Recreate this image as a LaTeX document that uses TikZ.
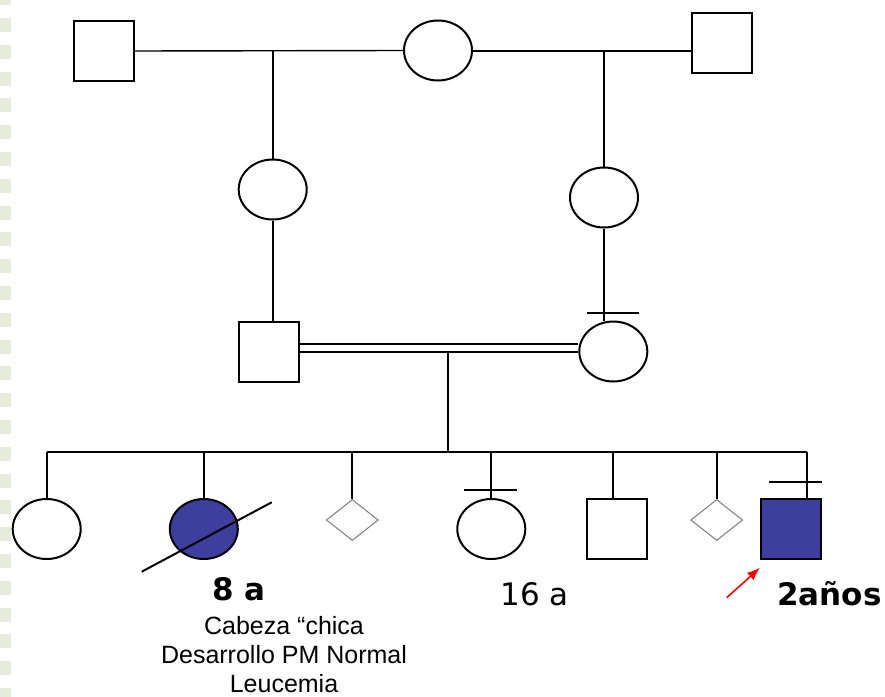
\documentclass[tikz,border=0pt]{standalone}
\usepackage{fontspec}
\usetikzlibrary{shapes.geometric,arrows.meta}
\newfontfamily\dvsans{DejaVu Sans}
\newfontfamily\lsans{Liberation Sans}
\definecolor{affected}{RGB}{62,62,158}
\definecolor{stripe}{RGB}{230,235,218}
\definecolor{dgray}{RGB}{125,125,125}
\begin{document}
\begin{tikzpicture}[x=1pt,y=-1pt,
  male/.style={draw, line width=2pt, rectangle, minimum size=60pt, inner sep=0pt},
  female/.style={draw, line width=2pt, ellipse, minimum width=68pt, minimum height=60pt, inner sep=0pt},
  unk/.style={draw=dgray, line width=1pt, diamond, minimum width=52pt, minimum height=41pt, inner sep=0pt},
  aff/.style={fill=affected},
  link/.style={line width=2pt},
  thinlink/.style={line width=1.4pt},
  agebold/.style={font=\dvsans\bfseries\fontsize{31}{36}\selectfont, anchor=base, inner sep=0pt},
  agereg/.style={font=\dvsans\fontsize{31}{36}\selectfont, anchor=base, inner sep=0pt},
  note/.style={font=\lsans\fontsize{25}{29}\selectfont, anchor=base, inner sep=0pt}
]
\useasboundingbox (0,0) rectangle (885,696);
\fill[white] (0,0) rectangle (885,696);
% left decorative stripe
\foreach \i in {-1,...,25} {
  \fill[stripe] (0,{18+26.8*\i}) rectangle (11,{32+26.8*\i});
}
% generation I
\node[male] (gf1) at (103.5,51) {};
\node[female] (gm) at (438,50.5) {};
\node[male] (gf2) at (722,43) {};
% generation II
\node[female] (mo1) at (272.7,189.5) {};
\node[female] (mo2) at (604,197.5) {};
% generation III
\node[male] (fa) at (269,351.5) {};
\node[female] (mo) at (613.3,351.5) {};
% generation IV
\node[female] (s1) at (46.7,529) {};
\node[female, aff] (s2) at (203.8,529) {};
\node[unk] (s3) at (352.3,520) {};
\node[female] (s4) at (491.3,529) {};
\node[male] (s5) at (617.3,529) {};
\node[unk] (s6) at (716.7,520) {};
\node[male, aff] (s7) at (791,529) {};

% coordinates
\coordinate (j1) at (272.7,51);
\coordinate (j2) at (604,51);
\coordinate (c1) at (447.7,351);
\coordinate (sL) at (46.7,451.7);
\coordinate (sR) at (806.7,451.7);
\coordinate (tmA) at (587,313);
\coordinate (tmB) at (639,313);
\coordinate (t4A) at (464.3,490);
\coordinate (t4B) at (517.3,490);
\coordinate (t7A) at (769.3,482.3);
\coordinate (t7B) at (821.7,482.3);
\coordinate (slA) at (141.7,571.7);
\coordinate (slB) at (271.7,502.3);
\coordinate (arA) at (726.7,597.7);
\coordinate (arB) at (760,567.7);

% marriages
\draw[thinlink] (gf1.east) -- (gm.west);
\draw[link] (gm.east) -- (gm.east -| gf2.west);
\draw[link] ([yshift=8pt]fa.east) -- ([yshift=8pt]fa.east -| mo.west);
\draw[link] (fa.east) -- (fa.east -| mo.west);
% descent
\draw[link] (j1) -- (mo1.north);
\draw[link] (j2) -- (mo2.north);
\draw[link] (mo1.south) -- (mo1.south |- fa.north);
\draw[link] (mo2.south) -- (mo2.south |- mo.north);
\draw[link] (tmA) -- (tmB);
\draw[link] (c1) -- (c1 |- sL);
\draw[link] (sL) -- (sR);
\draw[link] (sL) -- (s1.north);
\draw[link] (s2.north |- sL) -- (s2.north);
\draw[link] (s3.north |- sL) -- (s3.north);
\draw[link] (s4.north |- sL) -- (s4.north);
\draw[link] ([xshift=-4.6pt]s5.north |- sL) -- ([xshift=-4.6pt]s5.north);
\draw[link] (s6.north |- sL) -- (s6.north);
\draw[link] (sR) -- (sR |- s7.north);
\draw[link] (t4A) -- (t4B);
\draw[link] (t7A) -- (t7B);
% deceased slash
\draw[link] (slA) -- (slB);
% proband arrow
\draw[red, line width=1.6pt, -{Latex[length=13pt,width=10pt]}] (arA) -- (arB);

% texts
\node[agebold] (l8) at (238.8,600.7) {8 a};
\node[agereg] (l16) at (534.7,605) {16 a};
\node[agebold, anchor=base west] (l2) at (777,605) {2años};
\node[note] (n1) at (284,634) {Cabeza “chica};
\node[note] (n2) at (284,663.5) {Desarrollo PM Normal};
\node[note, text depth=0pt] (n3) at (284,692.5) {Leucemia};
\end{tikzpicture}
\end{document}
